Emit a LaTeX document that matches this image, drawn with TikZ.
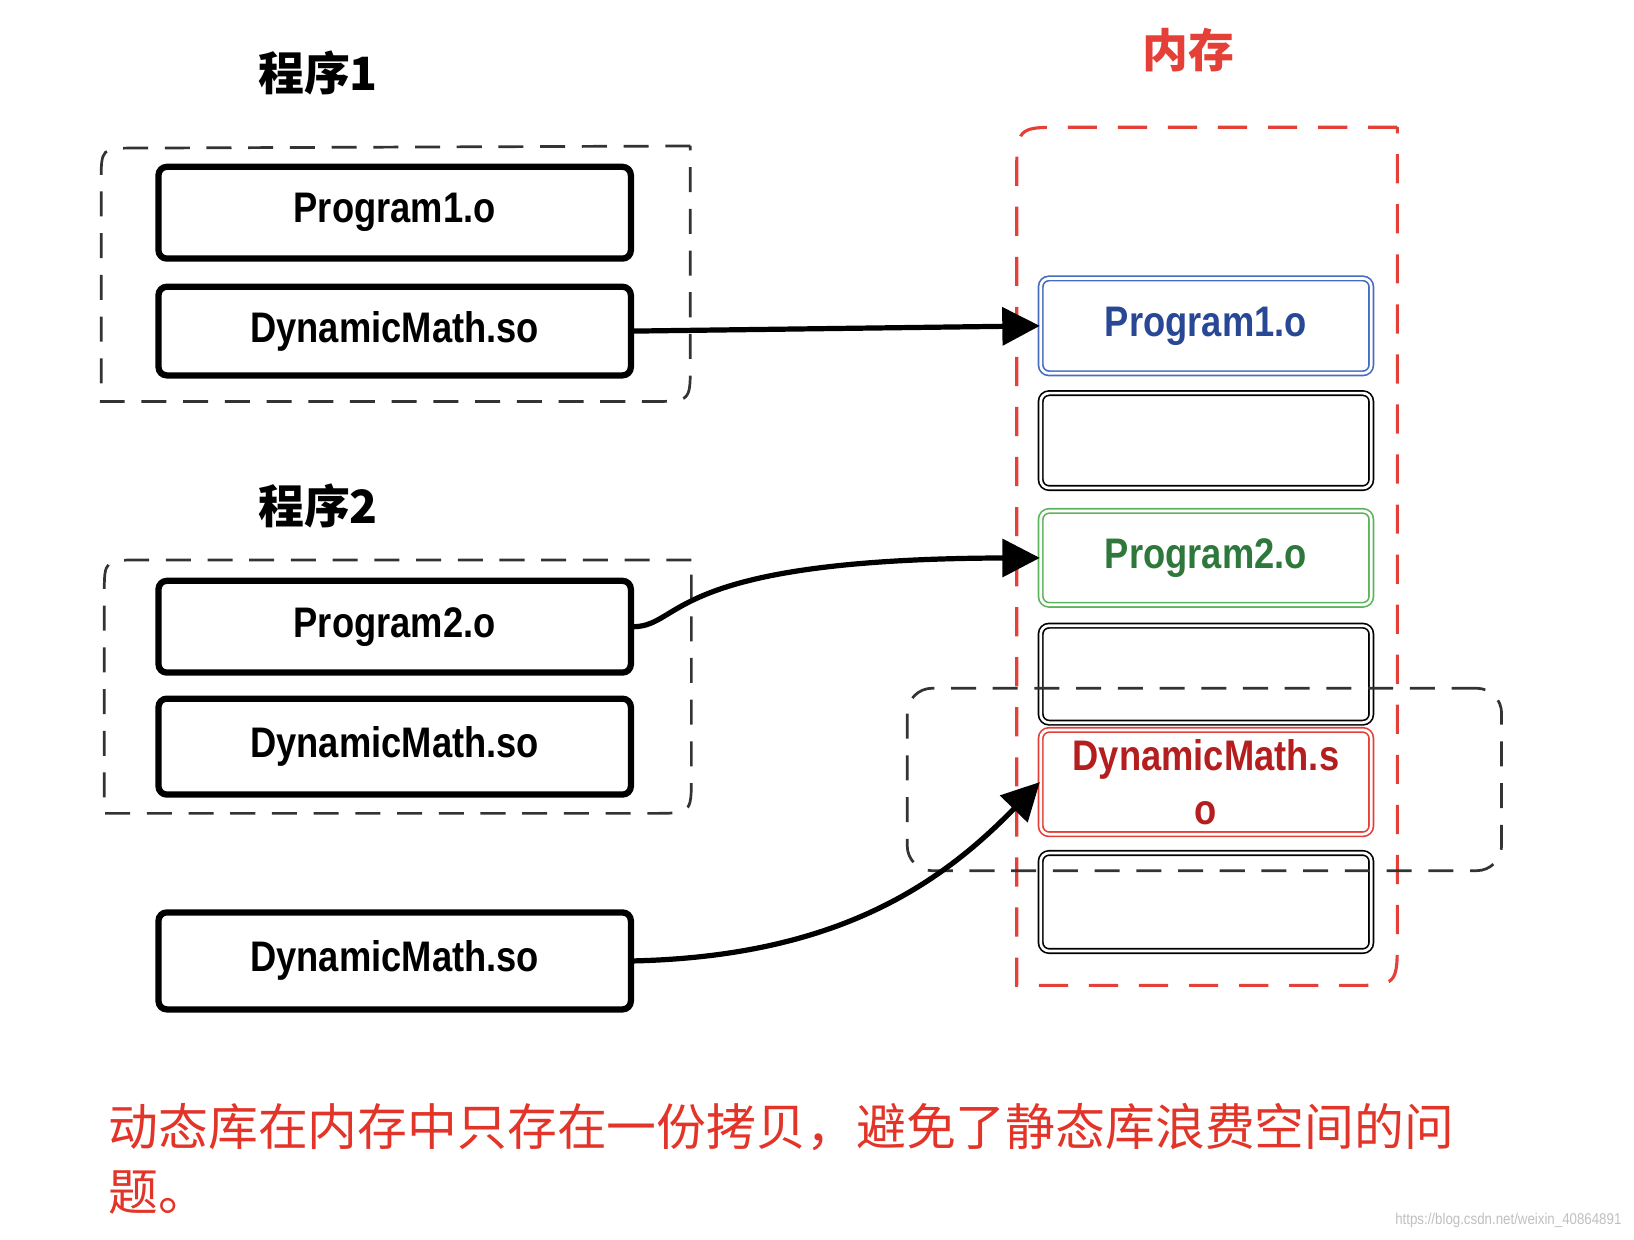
\documentclass[tikz,border=0pt]{standalone}
\usepackage{fontspec}
\usetikzlibrary{arrows.meta}
\newfontfamily\labfont[FakeStretch=0.85]{Liberation Sans}
\newfontfamily\cjk{Noto Sans CJK SC}
\definecolor{memred}{RGB}{228,64,56}
\definecolor{capred}{RGB}{226,52,40}
\definecolor{boxblue}{RGB}{70,108,192}
\definecolor{txtblue}{RGB}{40,72,150}
\definecolor{boxgreen}{RGB}{92,180,92}
\definecolor{txtgreen}{RGB}{46,120,60}
\definecolor{txtred}{RGB}{180,30,30}
\begin{document}
\begin{tikzpicture}[x=0.5pt,y=-0.5pt,
  progbox/.style={draw=black, line width=3pt, rounded corners=4pt, minimum width=226.5pt,
    inner sep=0pt, font=\labfont\bfseries\fontsize{20.5}{24}\selectfont},
  membox/.style={draw=#1, line width=0.8pt, double=white, double distance=1.3pt,
    rounded corners=4pt, minimum width=158.5pt, inner sep=0pt, align=center,
    font=\labfont\bfseries\fontsize{20.5}{24}\selectfont},
  conn/.style={line width=2.5pt, -{Triangle[length=18pt,width=18pt]}},
  dashbox/.style={draw=black!80, line width=1.3pt, dash pattern=on 12pt off 8pt},
  reddash/.style={draw=memred, line width=1.5pt, dash pattern=on 14pt off 10pt},
  title/.style={font=\cjk\bfseries\fontsize{22}{26}\selectfont}]
\useasboundingbox (0,0) rectangle (1567,1189);

% titles
\node[title] (t1) at (305,70) {程序1};
\node[title] (t2) at (305,485) {程序2};
\node[title, text=memred] (tm) at (1140,48) {内存};

% memory container
\draw[reddash] (1340,122) -- (1020,122) .. controls (975,122) .. (975,170) -- (975,945)
  -- (1295,945) .. controls (1340,945) .. (1340,900) -- cycle;

% program 1 group
\draw[dashbox] (662,140) -- (130,142) .. controls (97,142) .. (97,175) -- (97,385)
  -- (625,385) .. controls (662,385) .. (662,350) -- cycle;
\node[progbox, minimum height=44pt] (p1) at (378.5,204) {Program1.o};
\node[progbox, minimum height=42.5pt] (d1) at (378.5,317.5) {DynamicMath.so};

% program 2 group
\draw[dashbox] (663,537) -- (135,537) .. controls (100,537) .. (100,570) -- (100,780)
  -- (625,780) .. controls (663,780) .. (663,745) -- cycle;
\node[progbox, minimum height=44pt] (p2) at (378.5,601) {Program2.o};
\node[progbox, minimum height=46pt] (d2) at (378.5,716) {DynamicMath.so};

% standalone library
\node[progbox, minimum height=46.5pt] (d3) at (378.5,921.5) {DynamicMath.so};

% memory blocks
\node[membox=boxblue, text=txtblue, minimum height=45.5pt] (m1) at (1156.5,312.5) {Program1.o};
\node[membox=black, minimum height=45.5pt] (m2) at (1156.5,422.5) {};
\node[membox=boxgreen, text=txtgreen, minimum height=45pt] (m3) at (1156.5,535) {Program2.o};
\node[membox=black, minimum height=46.5pt] (m4) at (1156.5,646.5) {};
\node[membox=memred, text=txtred, minimum height=50pt] (m5) at (1156.5,750) {DynamicMath.s\\[2pt]o};
\node[membox=black, minimum height=47pt] (m6) at (1156.5,865) {};

% shared library group in memory
\node[dashbox, rounded corners=12pt, minimum width=285pt, minimum height=87.5pt] (dyn) at (1155,747.5) {};

% connectors
\draw[conn] (d1.east) -- (m1.west);
\draw[conn] (p2.east) .. controls (655,600) and (640,536) .. (m3.west);
\draw[conn] (d3.east) .. controls (800,917) and (900,850) .. (m5.west);

% caption
\node[anchor=west, align=left, text=capred, font=\cjk\fontsize{23.9}{31}\selectfont] (cap) at (97,1111)
  {动态库在内存中只存在一份拷贝，避免了静态库浪费空间的问\\题。};

% watermark
\node[anchor=east, text=black!25, font=\labfont\fontsize{7.5}{9}\selectfont] (wm) at (1562,1170)
  {https://blog.csdn.net/weixin\_40864891};
\end{tikzpicture}
\end{document}
